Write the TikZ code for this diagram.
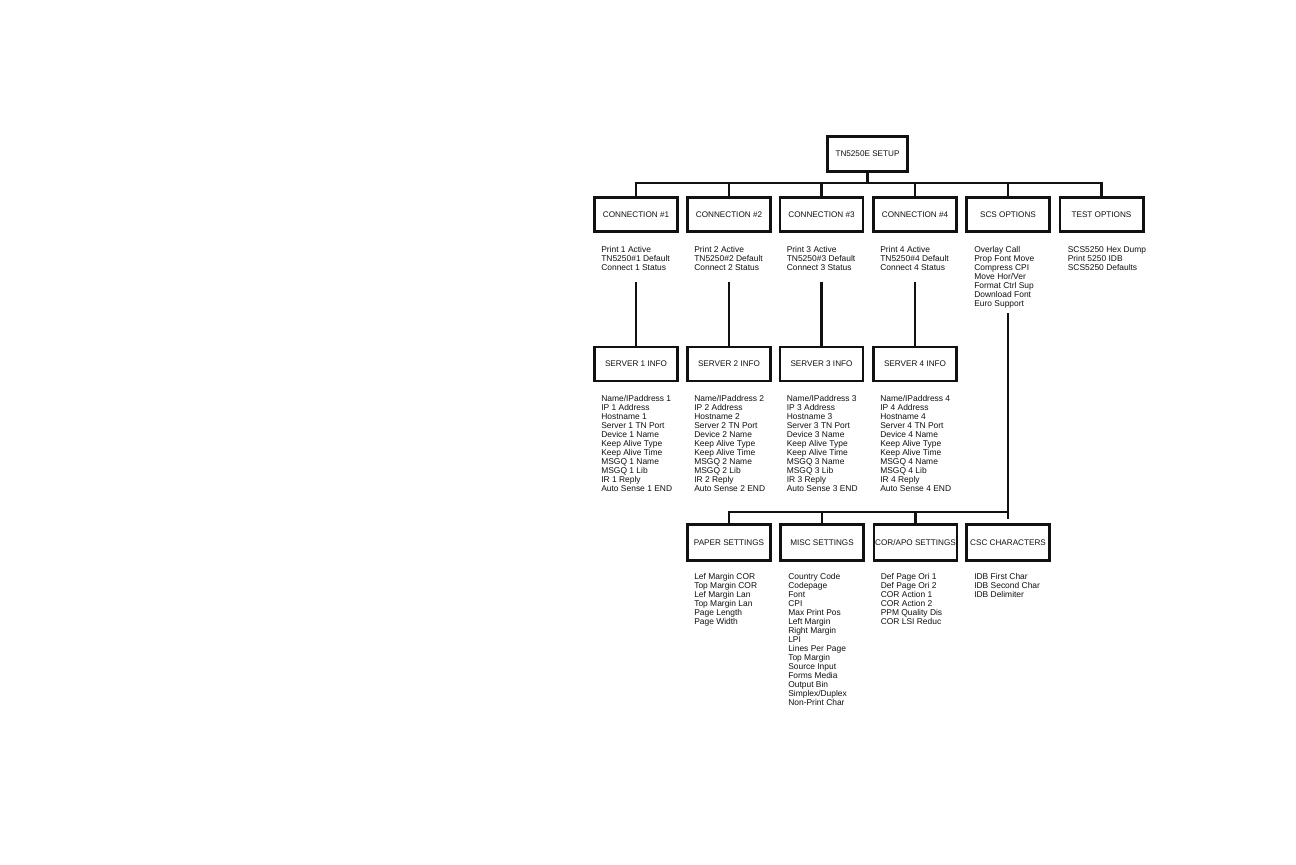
\documentclass[tikz,border=0pt]{standalone}
\usepackage{fontspec}
\setmainfont{Liberation Sans}
\usetikzlibrary{positioning,calc}
\definecolor{Ink}{HTML}{111111}

\begin{document}
\begin{tikzpicture}[x=0.025cm,y=-0.025cm,menu/.style={draw=Ink,line width=2.1pt,fill=white,minimum width=2.075cm,minimum height=0.85cm,inner xsep=0pt,text=Ink,font=\fontsize{5.8}{6.4}\selectfont},items/.style={anchor=north west,align=left,inner sep=0pt,text=Ink,font=\fontsize{6}{6.4}\selectfont},link/.style={draw=Ink,line width=1.9pt}]
\useasboundingbox[fill=white] (0,0) rectangle (1296,864);
% top row
\node[menu,minimum width=2cm,minimum height=0.88cm] (setup) at (867.5,154) {TN5250E SETUP};
\node[menu] (conn1) at (636,214.5) {CONNECTION \#1};\node[menu] (conn2) at (729,214.5) {CONNECTION \#2};\node[menu] (conn3) at (821.5,214.5) {CONNECTION \#3};\node[menu] (conn4) at (915,214.5) {CONNECTION \#4};\node[menu] (scs) at (1008,214.5) {SCS OPTIONS};\node[menu] (test) at (1101.5,214.5) {TEST OPTIONS};
\coordinate (tb) at (867.5,183);
\draw[link] (conn1) |- (tb) -| (test);\draw[link] (setup) -- (tb);\draw[link] (conn2) -- (conn2 |- tb);\draw[link] (conn3) -- (conn3 |- tb);\draw[link] (conn4) -- (conn4 |- tb);\draw[link] (scs) -- (scs |- tb);
\node[items] (c1list) at ($(conn1.south west)+(8,13)$) {Print 1 Active\\TN5250\#1 Default\\Connect 1 Status};
\node[items] (c2list) at ($(conn2.south west)+(8,13)$) {Print 2 Active\\TN5250\#2 Default\\Connect 2 Status};
\node[items] (c3list) at ($(conn3.south west)+(8,13)$) {Print 3 Active\\TN5250\#3 Default\\Connect 3 Status};
\node[items] (c4list) at ($(conn4.south west)+(8,13)$) {Print 4 Active\\TN5250\#4 Default\\Connect 4 Status};
\node[items] (scslist) at ($(scs.south west)+(9,13)$) {Overlay Call\\Prop Font Move\\Compress CPI\\Move Hor/Ver\\Format Ctrl Sup\\Download Font\\Euro Support};
\node[items] (testlist) at ($(test.south west)+(9,13)$) {SCS5250 Hex Dump\\Print 5250 IDB\\SCS5250 Defaults};
% server row
\node[menu] (srv1) at (636,364) {SERVER 1 INFO};\node[menu] (srv2) at (729,364) {SERVER 2 INFO};\node[menu] (srv3) at (821.5,364) {SERVER 3 INFO};\node[menu] (srv4) at (915,364) {SERVER 4 INFO};
\draw[link] (c1list.south -| srv1) ++(0,11) -- (srv1);\draw[link] (c2list.south -| srv2) ++(0,11) -- (srv2);\draw[link] (c3list.south -| srv3) ++(0,11) -- (srv3);\draw[link] (c4list.south -| srv4) ++(0,11) -- (srv4);
\node[items] (s1list) at ($(srv1.south west)+(8,13)$) {Name/IPaddress 1\\IP 1 Address\\Hostname 1\\Server 1 TN Port\\Device 1 Name\\Keep Alive Type\\Keep Alive Time\\MSGQ 1 Name\\MSGQ 1 Lib\\IR 1 Reply\\Auto Sense 1 END};
\node[items] (s2list) at ($(srv2.south west)+(8,13)$) {Name/IPaddress 2\\IP 2 Address\\Hostname 2\\Server 2 TN Port\\Device 2 Name\\Keep Alive Type\\Keep Alive Time\\MSGQ 2 Name\\MSGQ 2 Lib\\IR 2 Reply\\Auto Sense 2 END};
\node[items] (s3list) at ($(srv3.south west)+(8,13)$) {Name/IPaddress 3\\IP 3 Address\\Hostname 3\\Server 3 TN Port\\Device 3 Name\\Keep Alive Type\\Keep Alive Time\\MSGQ 3 Name\\MSGQ 3 Lib\\IR 3 Reply\\Auto Sense 3 END};
\node[items] (s4list) at ($(srv4.south west)+(8,13)$) {Name/IPaddress 4\\IP 4 Address\\Hostname 4\\Server 4 TN Port\\Device 4 Name\\Keep Alive Type\\Keep Alive Time\\MSGQ 4 Name\\MSGQ 4 Lib\\IR 4 Reply\\Auto Sense 4 END};
% scs option subtree
\node[menu,minimum height=0.9cm] (paper) at (729,542.5) {PAPER SETTINGS};\node[menu,minimum height=0.9cm] (misc) at (822,542.5) {MISC SETTINGS};\node[menu,minimum height=0.9cm] (corapo) at (915.5,542.5) {\makebox[0pt]{COR/APO SETTINGS}};\node[menu,minimum height=0.9cm] (csc) at (1008,542.5) {CSC CHARACTERS};
\coordinate (jn) at (1008,512);
\draw[link,shorten >=0.1cm] (scslist.south -| csc) ++(0,5) -- (csc);\draw[link] (jn) -| (paper);\draw[link] (misc) -- (misc |- jn);\draw[link] (corapo) -- (corapo |- jn);
\node[items] (plist) at ($(paper.south west)+(8,11)$) {Lef Margin COR\\Top Margin COR\\Lef Margin Lan\\Top Margin Lan\\Page Length\\Page Width};
\node[items] (mlist) at ($(misc.south west)+(9,11)$) {Country Code\\Codepage\\Font\\CPI\\Max Print Pos\\Left Margin\\Right Margin\\LPI\\Lines Per Page\\Top Margin\\Source Input\\Forms Media\\Output Bin\\Simplex/Duplex\\Non-Print Char};
\node[items] (clist) at ($(corapo.south west)+(8,11)$) {Def Page Ori 1\\Def Page Ori 2\\COR Action 1\\COR Action 2\\PPM Quality Dis\\COR LSI Reduc};
\node[items] (cclist) at ($(csc.south west)+(9,11)$) {IDB First Char\\IDB Second Char\\IDB Delimiter};
\end{tikzpicture}
\end{document}
